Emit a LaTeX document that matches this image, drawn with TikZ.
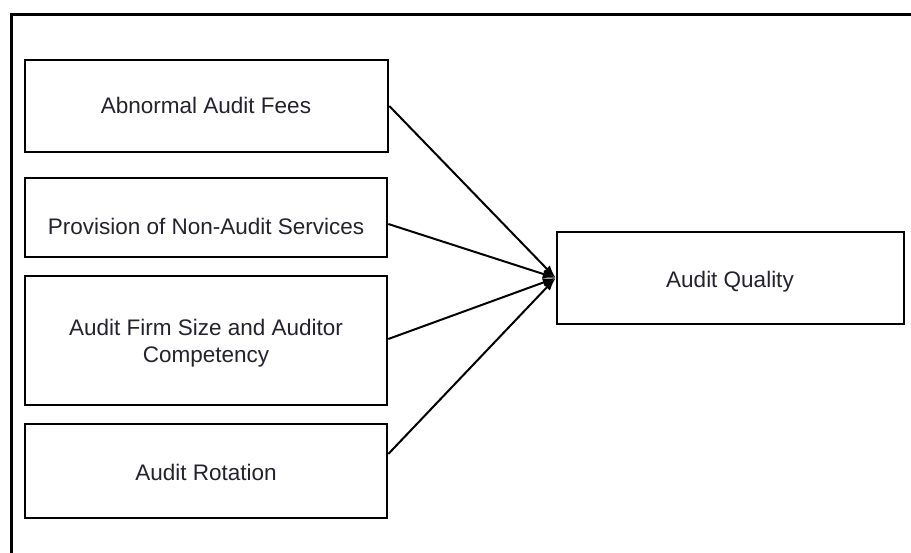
\documentclass[tikz,border=0pt]{standalone}
\usepackage{fontspec}
\setmainfont{Liberation Sans}
\usetikzlibrary{arrows.meta}
\definecolor{inkline}{RGB}{0,0,0}
\definecolor{inktext}{RGB}{35,35,45}
\tikzset{
  box/.style={draw=inkline, line width=2.6pt, fill=white, inner sep=0pt, rectangle},
  lbl/.style={text=inktext, font=\fontsize{22.5}{27}\selectfont, inner sep=0pt, align=center},
  link/.style={draw=inkline, line width=2pt, -{Latex[length=13pt,width=9pt]}},
  frame/.style={draw=inkline, line width=3pt}
}
\begin{document}
\begin{tikzpicture}[x=1pt,y=-1pt]
  \useasboundingbox (0,0) rectangle (911,553);
  \fill[white] (0,0) rectangle (911,553);

  % open frame: left and top edges
  \coordinate (fbl) at (11,560);
  \coordinate (ftl) at (11,15);
  \coordinate (ftr) at (920,15);
  \draw[frame] (fbl) -- (ftl) -- (ftr);

  % independent variables
  \node[box, minimum width=363pt, minimum height=92pt] (b1) at (206.5,106) {};
  \node[box, minimum width=362pt, minimum height=79pt] (b2) at (206,217.5) {};
  \node[box, minimum width=362pt, minimum height=129pt] (b3) at (206,340.5) {};
  \node[box, minimum width=362pt, minimum height=94pt] (b4) at (206,471) {};

  % dependent variable
  \node[box, minimum width=347pt, minimum height=92pt] (t) at (730.5,278) {};

  % labels
  \node[lbl, anchor=base] (l1) at (206,114) {Abnormal Audit Fees};
  \node[lbl, anchor=base] (l2) at (206,235) {Provision of Non-Audit Services};
  \node[lbl] (l3) at (206,343) {Audit Firm Size and Auditor\\Competency};
  \node[lbl, anchor=base] (l4) at (206,480) {Audit Rotation};
  \node[lbl, anchor=base] (lt) at (730,288) {Audit Quality};

  % arrows into the dependent variable
  \draw[link] (b1.east) -- (t.west);
  \draw[link] ([yshift=-6.5pt]b2.east) -- (t.west);
  \draw[link] ([yshift=1.5pt]b3.east) -- (t.west);
  \draw[link] ([yshift=17pt]b4.east) -- (t.west);
\end{tikzpicture}
\end{document}
